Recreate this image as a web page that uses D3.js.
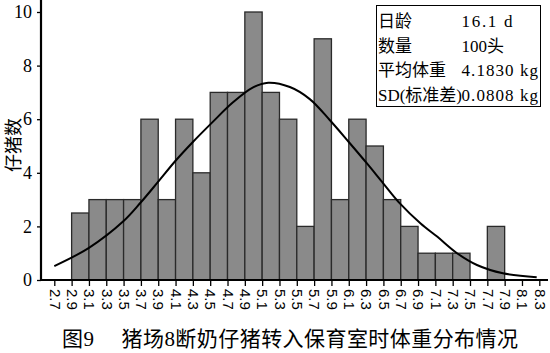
<!DOCTYPE html>
<html>
<head>
<meta charset="utf-8">
<script src="https://cdn.jsdelivr.net/npm/d3@7"></script>
<style>
  body { margin: 0; background: #fff; }
  svg { display: block; }
</style>
</head>
<body>
<script>
// bin edges (tick labels) and counts
const binEdges = ["2.7","2.9","3.1","3.3","3.5","3.7","3.9","4.1","4.3","4.5","4.7","4.9","5.1","5.3","5.5","5.7","5.9","6.1","6.3","6.5","6.7","6.9","7.1","7.3","7.5","7.7","7.9","8.1","8.3"];
const binCounts = [0, 2.5, 3, 3, 3, 6, 3, 6, 4, 7, 7, 10, 7, 6, 2, 9, 3, 6, 5, 3, 2, 1, 1, 1, 0, 2, 0, 0];
const yTicks = [0, 2, 4, 6, 8, 10];

// fitted normal curve, traced point by point
const curveX = [2.7, 3.1, 3.5, 3.7, 3.9, 4.1, 4.3, 4.53, 4.76, 4.99, 5.17, 5.42, 5.65, 5.88, 6.1, 6.31, 6.5, 6.69, 6.93, 7.12, 7.35, 7.58, 7.88, 8.27];
const curveY = [0.52, 1.2, 2.2, 2.9, 3.67, 4.45, 5.15, 5.9, 6.62, 7.18, 7.36, 7.2, 6.75, 5.97, 5.15, 4.35, 3.6, 2.86, 2.11, 1.62, 1.0, 0.56, 0.25, 0.1];

const legendLabels = ["日龄", "数量", "平均体重", "SD(标准差)"];
const legendValues = ["16.1 d", "100头", "4.1830 kg", "0.0808 kg"];

const yLabel = "仔猪数";
const title = "图9\u3000 猪场8断奶仔猪转入保育室时体重分布情况";

const W = 550, H = 353;
const svg = d3.select("body").append("svg")
    .attr("width", W)
    .attr("height", H);

const serif = "'Liberation Serif', 'Noto Sans CJK SC', serif";

// scales
const x = d3.scaleLinear()
    .domain([+binEdges[0], +binEdges[binEdges.length - 1]])
    .range([54.3, 539.3]);

const y = d3.scaleLinear()
    .domain([0, 10])
    .range([280, 12]);

// bars
const bars = binCounts.map((c, i) => ({ x0: +binEdges[i], x1: +binEdges[i + 1], n: c }))
    .filter(d => d.n > 0);

svg.append("g")
    .selectAll("rect")
    .data(bars)
    .enter()
    .append("rect")
    .attr("x", d => x(d.x0))
    .attr("y", d => y(d.n))
    .attr("width", d => x(d.x1) - x(d.x0))
    .attr("height", d => y(0) - y(d.n))
    .attr("fill", "#8a8a8a")
    .attr("stroke", "#2a2a2a")
    .attr("stroke-width", 1.3);

// normal curve
const line = d3.line()
    .x(d => x(d[0]))
    .y(d => y(d[1]))
    .curve(d3.curveCatmullRom.alpha(0.5));

svg.append("path")
    .datum(curveX.map((v, i) => [v, curveY[i]]))
    .attr("d", line)
    .attr("fill", "none")
    .attr("stroke", "#000")
    .attr("stroke-width", 2);

// y axis
const yAxis = svg.append("g")
    .attr("transform", "translate(41,0)")
    .call(d3.axisLeft(y).tickValues(yTicks).tickSize(4).tickPadding(5));
yAxis.select(".domain").remove();
yAxis.selectAll(".tick line").attr("stroke", "#000").attr("stroke-width", 1.3);
yAxis.selectAll(".tick text")
    .attr("font-family", serif)
    .attr("font-size", 18)
    .attr("fill", "#000");

svg.append("line")
    .attr("x1", 41).attr("x2", 41)
    .attr("y1", 0).attr("y2", 281)
    .attr("stroke", "#000")
    .attr("stroke-width", 2.2);

// x axis
const xAxis = svg.append("g")
    .attr("transform", "translate(0,280)")
    .call(d3.axisBottom(x)
        .tickValues(binEdges.map(Number))
        .tickFormat((d, i) => binEdges[i])
        .tickSize(6));
xAxis.select(".domain").remove();
xAxis.selectAll(".tick line").attr("stroke", "#000").attr("stroke-width", 1.3);
xAxis.selectAll(".tick text")
    .attr("transform", "rotate(90)")
    .attr("x", 9)
    .attr("y", 0)
    .attr("dy", "0.35em")
    .attr("text-anchor", "start")
    .attr("font-family", "'Liberation Sans', Arial, sans-serif")
    .attr("font-size", 15)
    .attr("fill", "#000");

svg.append("line")
    .attr("x1", 40).attr("x2", 548)
    .attr("y1", 280).attr("y2", 280)
    .attr("stroke", "#000")
    .attr("stroke-width", 2.2);

// y axis label
svg.append("text")
    .attr("transform", "translate(20,145) rotate(-90)")
    .attr("text-anchor", "middle")
    .attr("font-family", serif)
    .attr("font-size", 18)
    .text(yLabel);

// legend box
const lg = svg.append("g");
lg.append("rect")
    .attr("x", 376.5).attr("y", 5.5)
    .attr("width", 164).attr("height", 101)
    .attr("fill", "#fff")
    .attr("stroke", "#000")
    .attr("stroke-width", 1);

legendLabels.forEach((t, i) => {
    lg.append("text")
        .attr("x", 378)
        .attr("y", 27 + i * 24.5)
        .attr("font-family", serif)
        .attr("font-size", 17)
        .attr("textLength", i === 3 ? 84 : null)
        .attr("lengthAdjust", "spacingAndGlyphs")
        .text(t);
    lg.append("text")
        .attr("x", 461.5)
        .attr("y", 27 + i * 24.5)
        .attr("font-family", serif)
        .attr("font-size", 17)
        .attr("textLength", [51, 42.5, 76.5, 76.5][i])
        .attr("lengthAdjust", "spacing")
        .text(legendValues[i]);
});

// title
svg.append("text")
    .attr("x", 290)
    .attr("y", 346)
    .attr("text-anchor", "middle")
    .attr("font-family", serif)
    .attr("font-size", 21)
    .attr("textLength", 456)
    .attr("lengthAdjust", "spacing")
    .text(title);
</script>
</body>
</html>
